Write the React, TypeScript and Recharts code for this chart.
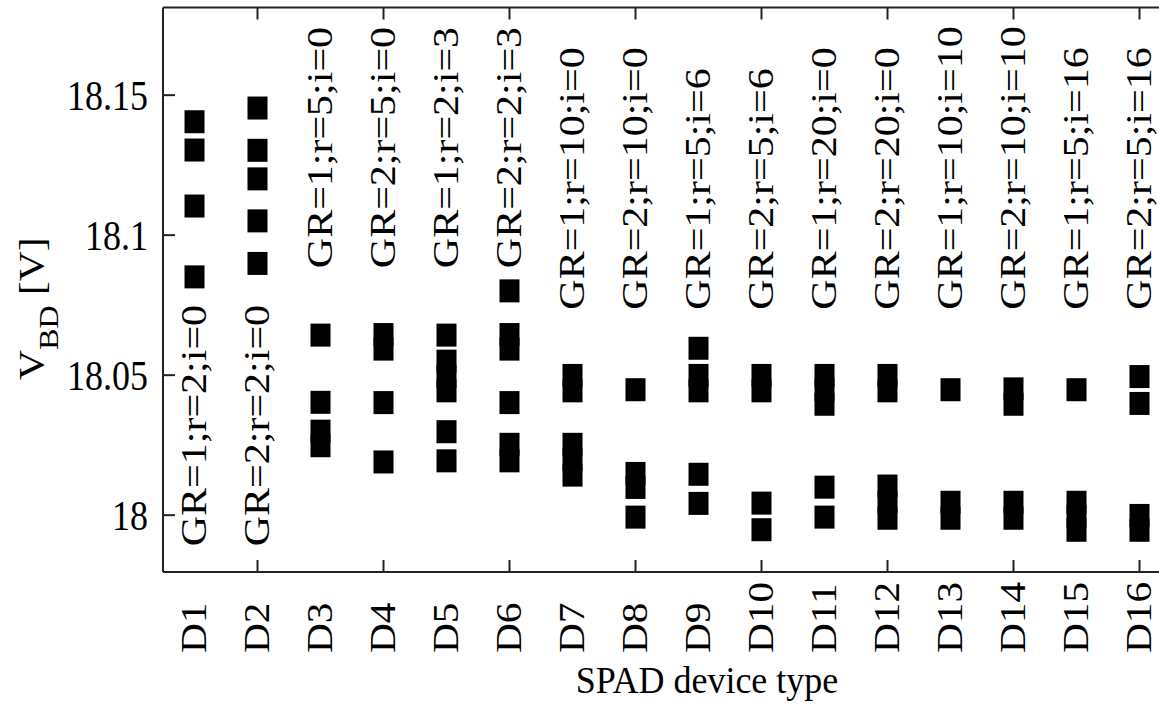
import { ScatterChart, Scatter, XAxis, YAxis } from 'recharts';

// SPAD breakdown voltage per device type
const devices = ['D1', 'D2', 'D3', 'D4', 'D5', 'D6', 'D7', 'D8', 'D9', 'D10', 'D11', 'D12', 'D13', 'D14', 'D15', 'D16'];

const structures = [
  'GR=1;r=2;i=0', 'GR=2;r=2;i=0', 'GR=1;r=5;i=0', 'GR=2;r=5;i=0',
  'GR=1;r=2;i=3', 'GR=2;r=2;i=3', 'GR=1;r=10;i=0', 'GR=2;r=10;i=0',
  'GR=1;r=5;i=6', 'GR=2;r=5;i=6', 'GR=1;r=20;i=0', 'GR=2;r=20;i=0',
  'GR=1;r=10;i=10', 'GR=2;r=10;i=10', 'GR=1;r=5;i=16', 'GR=2;r=5;i=16',
];

// where each rotated structure label starts (in volts)
const labelBase = [
  17.9889, 17.9889, 18.0882, 18.0882, 18.0882, 18.0882, 18.0734, 18.0734,
  18.0734, 18.0734, 18.0734, 18.0734, 18.0734, 18.0734, 18.0734, 18.0734,
];

// measured V_BD samples [V]
const vbd: number[][] = [
  [18.1405, 18.1304, 18.1104, 18.0851],
  [18.1454, 18.1303, 18.1201, 18.1051, 18.0899],
  [18.0643, 18.0403, 18.03, 18.0248],
  [18.0645, 18.0593, 18.0402, 18.019],
  [18.0643, 18.055, 18.0496, 18.0444, 18.0298, 18.0194],
  [18.0801, 18.0645, 18.0593, 18.0402, 18.0253, 18.0194],
  [18.0499, 18.0444, 18.0253, 18.0198, 18.0143],
  [18.0448, 18.0149, 18.0099, 17.9993],
  [18.0596, 18.0499, 18.0444, 18.0146, 18.0042],
  [18.0499, 18.0444, 18.0043, 17.9948],
  [18.0499, 18.0448, 18.0396, 18.01, 17.9993],
  [18.0499, 18.0444, 18.0104, 18.0046, 17.9989],
  [18.0448, 18.0046, 17.9989],
  [18.0451, 18.0396, 18.0046, 17.9989],
  [18.0448, 18.0046, 17.9996, 17.9946],
  [18.0495, 18.0399, 17.9999, 17.9946],
];

const yTicks = [18, 18.05, 18.1, 18.15];
const xTicks = devices.map((_, i) => i + 1);
const frameTicks = [2, 4, 6, 8, 10, 12, 14, 16];

const FONT = '"Liberation Serif", "Times New Roman", serif';
const INK = '#000';
const AXIS = '#222';

const renderSquare = (props: any) => {
  const { cx, cy } = props;
  return <rect x={cx - 10} y={cy - 11.5} width={20} height={23} fill={INK} />;
};

const renderLabel = (props: any) => {
  const { cx, cy, payload } = props;
  return (
    <text
      transform={`translate(${cx + 11.6},${cy}) rotate(-90) scale(1.2,1)`}
      fontFamily={FONT}
      fontSize={35}
      fill={INK}
    >
      {payload.text}
    </text>
  );
};

const renderDeviceTick = (props: any) => {
  const { x, y, payload } = props;
  const v = payload.value as number;
  return (
    <g>
      {v % 2 === 0 && <line x1={x} y1={y} x2={x} y2={y - 12} stroke={AXIS} strokeWidth={2} />}
      <text
        transform={`translate(${x + 11.5},${y + 81}) rotate(-90) scale(1.18,1)`}
        fontFamily={FONT}
        fontSize={35}
        fill={INK}
      >
        {devices[v - 1]}
      </text>
    </g>
  );
};

const renderTopTick = (props: any) => {
  const { x, y } = props;
  return <line x1={x} y1={y} x2={x} y2={y + 12} stroke={AXIS} strokeWidth={2} />;
};

const renderVoltTick = (props: any) => {
  const { x, y, payload } = props;
  return (
    <g>
      <line x1={x} y1={y} x2={x + 12} y2={y} stroke={AXIS} strokeWidth={2} />
      <text
        transform={`translate(${x - 15},${y + 14.5}) scale(1,1.2)`}
        textAnchor="end"
        fontFamily={FONT}
        fontSize={36}
        fill={INK}
      >
        {String(payload.value)}
      </text>
    </g>
  );
};

const renderXTitle = () => (
  <text
    transform="translate(707,693) scale(1,1.08)"
    textAnchor="middle"
    fontFamily={FONT}
    fontSize={36}
    fill={INK}
  >
    SPAD device type
  </text>
);

const renderYTitle = () => (
  <text
    transform="translate(44,380) rotate(-90) scale(1.15,1)"
    fontFamily={FONT}
    fontSize={36}
    fill={INK}
  >
    V
    <tspan fontSize={28} dy={14}>BD</tspan>
    <tspan dy={-14}> [V]</tspan>
  </text>
);

export default function App() {
  const points = vbd.flatMap((vals, i) => vals.map((v) => ({ x: i + 1, y: v })));
  const labels = structures.map((text, i) => ({ x: i + 1, y: labelBase[i], text }));

  return (
    <div
      style={{
        position: 'fixed',
        left: 0,
        top: 0,
        width: 1159,
        height: 724,
        overflow: 'hidden',
        background: '#fff',
      }}
    >
      <ScatterChart width={1200} height={724} margin={{ top: 0, right: 29, bottom: 0, left: 0 }}>
        <XAxis
          xAxisId="bottom"
          type="number"
          dataKey="x"
          domain={[0.5, 16.5]}
          ticks={xTicks}
          interval={0}
          height={152}
          tickSize={0}
          tickMargin={0}
          tickLine={false}
          tick={renderDeviceTick}
          axisLine={{ stroke: AXIS, strokeWidth: 2 }}
          label={renderXTitle}
        />
        <XAxis
          xAxisId="top"
          orientation="top"
          type="number"
          dataKey="x"
          domain={[0.5, 16.5]}
          ticks={frameTicks}
          interval={0}
          height={7.5}
          tickSize={0}
          tickMargin={0}
          tickLine={false}
          tick={renderTopTick}
          axisLine={{ stroke: AXIS, strokeWidth: 2 }}
        />
        <YAxis
          yAxisId="left"
          type="number"
          dataKey="y"
          domain={[17.9797, 18.1813]}
          ticks={yTicks}
          interval={0}
          width={163}
          tickSize={0}
          tickMargin={0}
          tickLine={false}
          tick={renderVoltTick}
          axisLine={{ stroke: AXIS, strokeWidth: 2 }}
          label={renderYTitle}
          allowDataOverflow
        />
        <Scatter
          xAxisId="bottom"
          yAxisId="left"
          data={points}
          shape={renderSquare}
          isAnimationActive={false}
        />
        <Scatter
          xAxisId="top"
          yAxisId="left"
          data={labels}
          shape={renderLabel}
          isAnimationActive={false}
        />
      </ScatterChart>
    </div>
  );
}
